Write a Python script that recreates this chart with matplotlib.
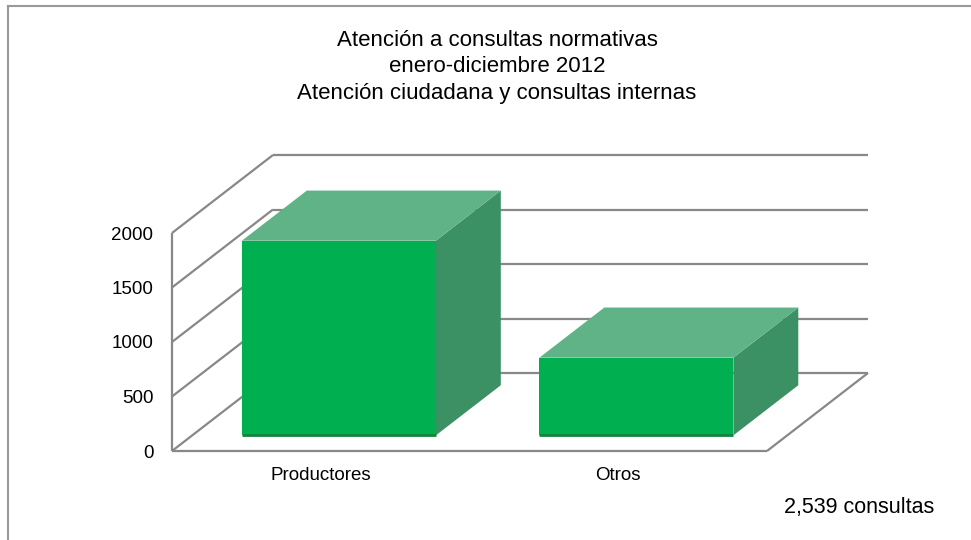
import matplotlib
matplotlib.use("Agg")
import matplotlib.pyplot as plt
from matplotlib.patches import Polygon
from matplotlib.lines import Line2D
from matplotlib.transforms import IdentityTransform

plt.rcParams['font.family'] = ['Liberation Sans', 'DejaVu Sans']

# Data
categorias = ['Productores', 'Otros']
valores = [1786, 713]
yticks = [0, 500, 1000, 1500, 2000]
titulo = ['Atención a consultas normativas',
          'enero-diciembre 2012',
          'Atención ciudadana y consultas internas']
total_txt = '2,539 consultas'

W, H = 971, 540
fig = plt.figure(figsize=(W / 100, H / 100), dpi=100)
ax = fig.add_axes([172 / W, (H - 451) / H, 595 / W, 218 / H])
ax.set_xlim(-0.5, 1.5)
ax.set_ylim(0, 2000)
ax.patch.set_visible(False)
for s in ax.spines.values():
    s.set_visible(False)

# fake 3D: depth vector in pixels
DX, DY = 101, 78
D0, D1 = 0.2, 0.843
half = 0.326
grid_col = '#888888'


def proj(x, v, d):
    px, py = ax.transData.transform((x, v))
    return (px + DX * d, py + DY * d)


def poly(pts, color, z):
    ax.add_patch(Polygon(pts, closed=True, facecolor=color, edgecolor='none',
                         transform=IdentityTransform(), clip_on=False, zorder=z))


def line(p, q, color=grid_col, lw=1.6, z=1):
    ax.add_line(Line2D([p[0], q[0]], [p[1], q[1]], color=color, lw=lw,
                       transform=IdentityTransform(), clip_on=False, zorder=z,
                       solid_capstyle='butt'))


# walls and floor
for v in yticks:
    line(proj(-0.5, v, 1), proj(1.5, v, 1))
    line(proj(-0.5, v, 0), proj(-0.5, v, 1))
line(proj(-0.5, 0, 0), proj(-0.5, 2000, 0))
line(proj(-0.5, 0, 0), proj(1.5, 0, 0))
line(proj(1.5, 0, 0), proj(1.5, 0, 1))

# bars (centre nudged a touch left like the original)
for i, v in enumerate(valores):
    x0, x1 = i - 0.007 - half, i - 0.007 + half
    poly([proj(x1, 0, D0), proj(x1, 0, D1), proj(x1, v, D1), proj(x1, v, D0)], '#3B9164', 3)
    poly([proj(x0, v, D0), proj(x1, v, D0), proj(x1, v, D1), proj(x0, v, D1)], '#5FB387', 3)
    poly([proj(x0, 0, D0), proj(x1, 0, D0), proj(x1, v, D0), proj(x0, v, D0)], '#00AF50', 4)
    line(proj(x0, 0, D0), proj(x1, 0, D0), color='#12843F', lw=2, z=5)

ax.set_yticks(yticks)
ax.set_xticks([0, 1], categorias)
ax.tick_params(axis='y', length=0, pad=13.5, labelsize=13.5)
ax.tick_params(axis='x', length=0, pad=11.5, labelsize=13.5)

# title
for k, t in enumerate(titulo):
    fig.text(497 / W, 1 - (40 + 26.5 * k) / H, t, ha='center', va='center', fontsize=16)

fig.text(859 / W, 1 - 507 / H, total_txt, ha='center', va='center', fontsize=15.5)

# chart border (only left and top visible)
fig.add_artist(Line2D([8 / W, 8 / W], [0, 1 - 6 / H], transform=fig.transFigure,
                      color='#999999', lw=1.5))
fig.add_artist(Line2D([8 / W, 1], [1 - 6 / H, 1 - 6 / H], transform=fig.transFigure,
                      color='#999999', lw=1.5))

fig.savefig('out.png', dpi=100)
